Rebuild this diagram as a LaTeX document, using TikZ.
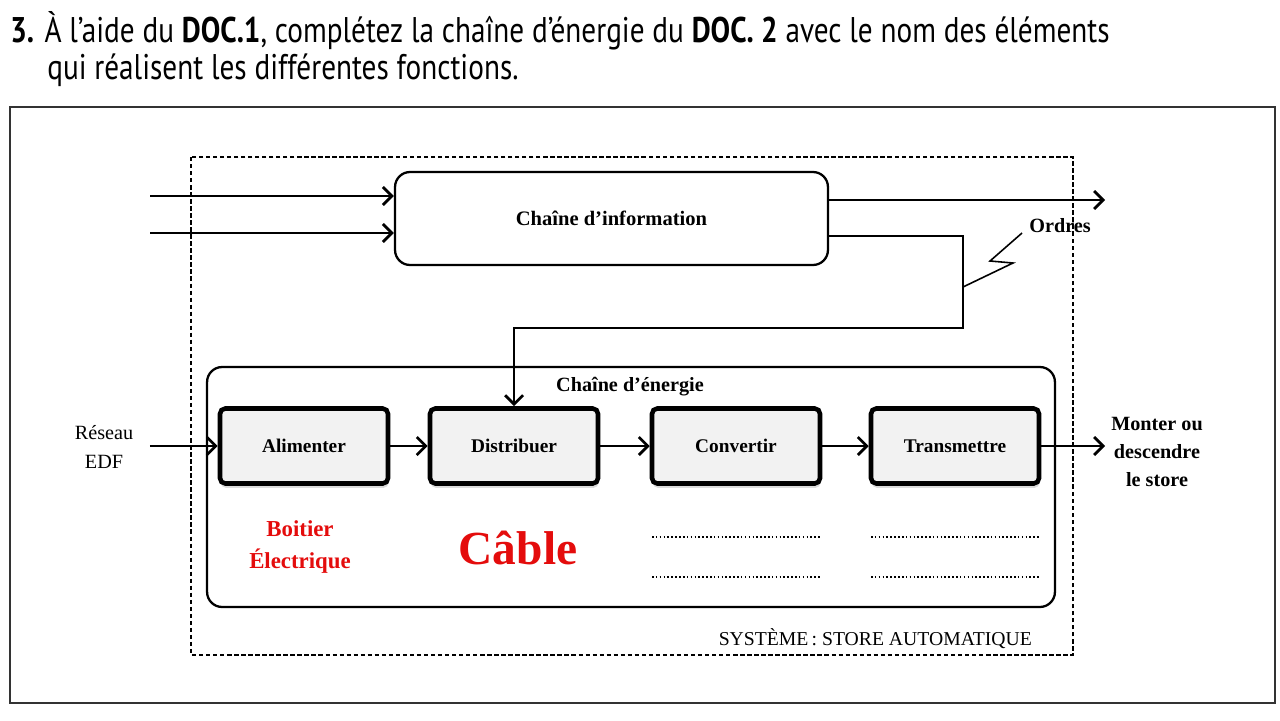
\documentclass[tikz,border=0pt]{standalone}
\usepackage{fontspec}
\usepackage{tikz}
\setmainfont{Liberation Serif}
\newfontfamily\titlefont[FakeStretch=0.82]{PT Sans}
\usetikzlibrary{positioning, calc, arrows.meta, shadows}
\definecolor{rouge}{RGB}{228,12,12}

\tikzset{
    fleche/.style={line width=1.3pt, -{Straight Barb[length=1.8mm, width=3.6mm, line width=1.6pt]}},
    bloc/.style={draw, line width=2.6pt, rounded corners=3pt, fill=gray!10,
        minimum width=3.36cm, minimum height=1.5cm, font=\fontsize{11}{13}\selectfont\bfseries,
        drop shadow={shadow xshift=0.4pt, shadow yshift=-2.5pt, fill=gray!35, opacity=0.8}},
    pointilles/.style={line width=0.9pt, dash pattern=on 0.9pt off 1.3pt},
}

\begin{document}
\begin{tikzpicture}[x=0.02cm, y=-0.02cm, >=stealth]
    \useasboundingbox (0,0) rectangle (1280,720);

    % Consigne
    \node[anchor=base west, inner sep=0, font=\titlefont\fontsize{20.3}{24}\selectfont] (titre) at (10,42)
        {\textbf{3.} À l’aide du \textbf{DOC.1}, complétez la chaîne d’énergie du \textbf{DOC. 2} avec le nom des éléments};
    \node[anchor=base west, inner sep=0, font=\titlefont\fontsize{20.3}{24}\selectfont] (titre2) at (47,79)
        {qui réalisent les différentes fonctions.};

    % Cadres
    \draw[line width=1pt, gray!40!black] (10,107) rectangle (1275,703);
    \draw[dash pattern=on 2.5pt off 1.5pt, line width=0.8pt] (191,157) rectangle (1073,655);

    % Chaine d'information
    \node[draw, line width=1.3pt, rounded corners=0.3cm, minimum width=8.66cm, minimum height=1.86cm,
        font=\fontsize{11.7}{13}\selectfont\bfseries] (info) at (611.5,218.5) {Chaîne d’information};
    \coordinate (in1) at (150,196);
    \coordinate (in2) at (150,233);
    \coordinate (out1) at (1105,200);
    \draw[fleche] (in1) -- (in1 -| info.west);
    \draw[fleche] (in2) -- (in2 -| info.west);
    \draw[fleche] (info.east |- out1) -- (out1);

    % Chaine d'energie
    \node[draw, line width=1.3pt, rounded corners=0.3cm, minimum width=16.96cm, minimum height=4.8cm] (energie) at (631,487) {};
    \node[font=\fontsize{11.5}{13}\selectfont\bfseries] (titreE) at (630,387) {Chaîne d’énergie};

    \node[bloc] (alim) at (304,446) {Alimenter};
    \node[bloc] (distr) at (514,446) {Distribuer};
    \node[bloc] (conv) at (736,446) {Convertir};
    \node[bloc] (trans) at (955,446) {Transmettre};

    \node[align=center, font=\fontsize{11.5}{16}\selectfont] (reseau) at (104,447) {Réseau\\EDF};
    \node[align=center, font=\fontsize{11.5}{16}\selectfont\bfseries] (store) at (1157,452) {Monter ou\\descendre\\le store};

    \draw[fleche] ([xshift=6pt]reseau.east |- alim.west) -- (alim.west);
    \draw[fleche] (alim) -- (distr);
    \draw[fleche] (distr) -- (conv);
    \draw[fleche] (conv) -- (trans);
    \draw[fleche] (trans.east) -- (trans.east -| store.west);

    % Ordres
    \coordinate (ord) at (963,236);
    \coordinate (zz) at (963,287);
    \draw[fleche, line width=1.1pt] (info.east |- ord) -| (963,328) -| (distr.north);
    \draw[line width=0.9pt] (zz) -- (1013,263) -- (990,261) -- (1022,233);
    \node[font=\fontsize{11.5}{13}\selectfont\bfseries] (ordres) at (1060,226) {Ordres};

    % Reponses
    \node[text=rouge, align=center, font=\fontsize{13}{18}\selectfont\bfseries] (rep1) at (300,547) {Boitier\\Électrique};
    \node[text=rouge, font=\fontsize{27}{30}\selectfont\bfseries] (rep2) at (518,548) {Câble};
    \foreach \xa/\xb in {652/820, 871/1040}{
        \draw[pointilles] (\xa,537) -- (\xb,537);
        \draw[pointilles] (\xa,577) -- (\xb,577);
    }

    \node[anchor=base east, font=\fontsize{11.2}{13}\selectfont] (systeme) at (1038,645) {SYSTÈME\,: STORE AUTOMATIQUE};
\end{tikzpicture}
\end{document}
